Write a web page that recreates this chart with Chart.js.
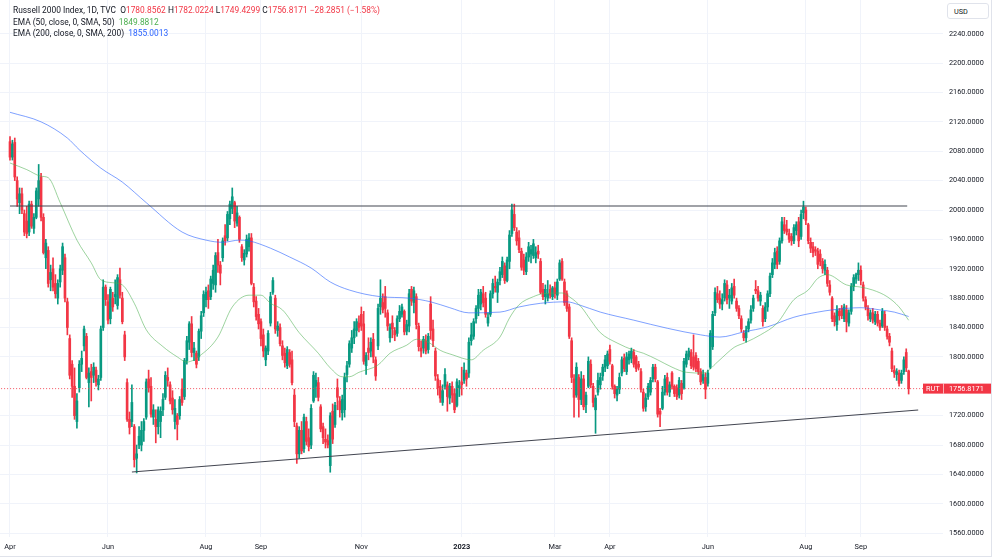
<!DOCTYPE html>
<html>
<head>
<meta charset="utf-8">
<script src="https://cdn.jsdelivr.net/npm/chart.js@4.4.0/dist/chart.umd.min.js"></script>
<style>
  body { margin: 0; background: #fff; }
  #wrap { position: relative; width: 1000px; height: 559px; overflow: hidden; font-family: Roboto, "Liberation Sans", sans-serif; }
  #frame { position: absolute; left: 0; top: 0; width: 991px; height: 556px; border-right: 1px solid #e0e3eb; border-bottom: 1px solid #e0e3eb; pointer-events: none; }
  #hdr { position: absolute; left: 13px; top: 5px; font-size: 8.4px; line-height: 11.5px; color: #131722; white-space: nowrap; }
  #hdr .red { color: #f23645; }
  #usd { position: absolute; left: 947px; top: 3px; width: 42px; height: 16px; border: 1px solid #e0e3eb; border-radius: 3px; font-size: 7.3px; line-height: 16px; color: #131722; padding-left: 6px; box-sizing: border-box; background: #fff; }
</style>
</head>
<body>
<div id="wrap">
  <canvas id="chart" width="1000" height="559"></canvas>
  <div id="frame"></div>
  <div id="hdr">
    <div><span>Russell 2000 Index, 1D, TVC</span>&nbsp; <span id="ohlc"></span></div>
    <div>EMA (50, close, 0, SMA, 50)&nbsp; <span id="v50" style="color:#4caf50"></span></div>
    <div>EMA (200, close, 0, SMA, 200)&nbsp; <span id="v200" style="color:#2962ff"></span></div>
  </div>
  <div id="usd">USD</div>
</div>
<script>
// trading-day index of each month label on the time axis
const tickIdx = [0, 41, 82, 105, 147, 189, 228, 251, 292, 333, 356];
const tickText = ['Apr', 'Jun', 'Aug', 'Sep', 'Nov', '2023', 'Mar', 'Apr', 'Jun', 'Aug', 'Sep'];
const yTicks = [1560, 1600, 1640, 1680, 1720, 1800, 1840, 1880, 1920, 1960, 2000, 2040, 2080, 2120, 2160, 2200, 2240];

// daily candles, 1 Apr 2022 .. 2 Oct 2023
const opens = [
  2093,2072,2092,2040,2010,2022,1995,1985,1970,2008,1975,1990,2015,2045,1990,1935,1945,1905,1920,1900,
  1880,1902,1918,1935,1875,1825,1790,1760,1712,1758,1790,1815,1828,1765,1780,1775,1782,1762,1772,1840,1895,
  1875,1852,1880,1882,1870,1905,1880,1830,1765,1715,1712,1705,1662,1680,1680,1700,1718,1770,1760,1718,1715,
  1705,1712,1728,1745,1772,1762,1744,1712,1720,1720,1756,1746,1795,1820,1845,1806,1805,1800,1835,1860,
  1878,1890,1882,1900,1898,1942,1925,1935,1965,1962,1988,2002,2010,1982,1990,1950,1932,1940,1950,1962,1895,1876,1858,
  1848,1830,1796,1808,1846,1888,1880,1836,1840,1815,1805,1788,1806,1796,1748,1706,1668,1700,1675,1712,1690,
  1680,1740,1760,1765,1732,1705,1688,1686,1652,1726,1708,1758,1740,1724,1728,1776,1790,1812,1826,1836,1846,
  1858,1845,1788,1812,1808,1824,1796,1815,1868,1874,1882,1860,1826,1846,1836,1832,1852,1858,1862,1835,1842,
  1892,1874,1882,1842,1812,1812,1822,1810,1872,1838,1808,1770,1760,1738,1760,1762,1744,1760,1750,1734,1758,
  1766,1768,1778,1778,1822,1828,1852,1866,1872,1886,1880,1846,1858,1886,1896,1888,1904,1912,1924,1904,
  1930,1968,1994,1970,1962,1944,1932,1916,1936,1940,1938,1935,1944,1930,1892,1882,1880,1892,1882,
  1894,1884,1906,1930,1902,1886,1868,1822,1770,1748,1772,1742,1770,1735,1760,1790,1760,1728,1752,1762,1774,1786,1788,
  1810,1788,1760,1748,1756,1778,1798,1780,1796,1798,1806,1800,1790,1780,1752,1732,1746,1752,1770,
  1786,1766,1726,1730,1752,1772,1752,1778,1760,1758,1748,1764,1758,1790,1800,1806,1800,1802,1794,1780,1768,1772,
  1764,1786,1814,1860,1886,1880,1872,1880,1898,1880,1876,1896,1876,1866,1852,1832,1826,1838,1850,1866,1892,
  1890,1876,1866,1852,1868,1886,1912,1926,1944,1930,1958,1980,1974,1968,1964,1958,1972,1984,1964,1996,
  2000,1980,1956,1950,1946,1944,1940,1930,1918,1918,1898,1880,1856,1844,1862,1866,1852,1864,1846,1862,1896,1906,1912,
  1918,1898,1878,1866,1852,1860,1848,1858,1846,1842,1858,1838,1828,1808,1782,1776,1778,1768,1780,1806,1780.8562
];
const highs = [
  2100,2095,2098,2045,2030,2030,2000,2005,2012,2012,1995,2030,2062,2050,1995,1960,1950,1925,1935,1912,
  1905,1925,1955,1940,1880,1830,1795,1785,1750,1795,1808,1842,1832,1785,1790,1792,1786,1775,1842,1905,1898,
  1885,1895,1888,1905,1912,1921,1888,1835,1770,1725,1762,1708,1680,1705,1712,1716,1770,1782,1772,1735,1728,
  1732,1732,1750,1780,1785,1766,1754,1742,1723,1746,1770,1798,1828,1848,1855,1820,1808,1838,1862,1890,
  1895,1898,1910,1925,1942,1960,1930,1962,1980,1998,2012,2030,2012,2005,1992,1953,1946,1966,1968,1968,1900,1882,1866,
  1852,1838,1815,1836,1888,1908,1884,1848,1845,1822,1812,1814,1810,1808,1756,1710,1705,1712,1722,1718,1702,
  1735,1780,1778,1772,1735,1710,1702,1694,1724,1736,1738,1770,1746,1748,1778,1794,1822,1836,1848,1852,1856,
  1868,1862,1806,1826,1826,1832,1800,1872,1905,1886,1896,1864,1845,1856,1840,1856,1870,1872,1864,1850,1892,
  1896,1895,1886,1846,1822,1828,1830,1832,1882,1850,1812,1776,1768,1762,1784,1766,1764,1766,1756,1770,1768,
  1786,1792,1782,1826,1846,1852,1870,1892,1892,1896,1888,1860,1890,1906,1910,1906,1922,1936,1928,1936,
  1972,2008,2008,1976,1972,1948,1940,1942,1956,1952,1960,1950,1952,1934,1900,1898,1904,1898,1896,
  1902,1906,1932,1934,1906,1890,1872,1826,1776,1792,1776,1780,1775,1752,1800,1796,1764,1748,1778,1778,1790,1802,1808,
  1816,1790,1762,1760,1778,1800,1804,1806,1808,1812,1810,1802,1794,1784,1756,1750,1764,1772,1790,
  1790,1768,1730,1760,1775,1778,1766,1780,1762,1762,1772,1768,1798,1808,1812,1810,1830,1806,1798,1784,1782,1778,
  1782,1836,1862,1894,1896,1890,1886,1905,1904,1892,1900,1906,1880,1870,1856,1836,1842,1852,1870,1884,1904,
  1896,1888,1870,1874,1890,1914,1934,1948,1950,1962,1990,1990,1986,1974,1968,1980,1984,1990,2000,2012,
  2004,1982,1962,1956,1950,1948,1946,1934,1932,1922,1904,1882,1860,1870,1866,1870,1872,1870,1864,1900,1912,1914,1928,
  1924,1902,1882,1870,1864,1866,1862,1862,1850,1866,1862,1842,1832,1812,1788,1784,1782,1782,1800,1811,1782.0224
];
const lows = [
  2068,2068,2040,2005,1995,1995,1965,1962,1965,1975,1968,1988,2005,1985,1940,1920,1895,1890,1890,1880,
  1872,1895,1912,1875,1830,1770,1745,1715,1703,1752,1780,1808,1770,1732,1740,1765,1760,1755,1768,1836,1870,
  1845,1845,1862,1872,1865,1880,1845,1795,1712,1695,1705,1650,1642,1675,1672,1685,1715,1752,1718,1708,1683,
  1695,1690,1720,1742,1760,1736,1722,1702,1687,1715,1734,1742,1790,1810,1800,1795,1785,1795,1825,1855,
  1868,1866,1878,1892,1888,1915,1898,1930,1952,1958,1980,1995,1976,1978,1956,1930,1925,1936,1944,1898,1868,1850,1838,
  1815,1800,1788,1803,1842,1885,1832,1828,1815,1796,1786,1784,1786,1762,1705,1655,1662,1668,1670,1680,1672,
  1675,1738,1745,1740,1698,1682,1676,1676,1643,1682,1704,1728,1718,1714,1718,1766,1786,1806,1818,1828,1834,
  1836,1790,1776,1796,1800,1792,1768,1810,1858,1860,1854,1836,1820,1826,1822,1828,1848,1854,1830,1830,1834,
  1870,1860,1838,1808,1800,1805,1804,1805,1824,1814,1768,1748,1738,1734,1756,1726,1736,1738,1724,1732,1746,
  1748,1764,1760,1772,1816,1824,1846,1856,1864,1868,1854,1842,1855,1880,1888,1874,1898,1908,1900,1902,
  1920,1964,1972,1952,1942,1918,1912,1912,1930,1928,1934,1928,1934,1886,1878,1872,1876,1880,1878,
  1880,1878,1904,1904,1870,1862,1825,1765,1718,1745,1718,1735,1728,1724,1758,1758,1732,1696,1748,1756,1768,1780,1784,
  1790,1756,1744,1740,1750,1774,1780,1776,1790,1792,1786,1780,1782,1752,1726,1726,1742,1748,1766,
  1766,1718,1705,1728,1748,1748,1746,1756,1746,1742,1744,1742,1756,1786,1796,1784,1782,1780,1776,1762,1764,1743,
  1760,1784,1810,1856,1874,1866,1864,1876,1872,1866,1872,1880,1862,1852,1834,1822,1820,1834,1846,1862,1886,
  1876,1870,1842,1848,1862,1882,1908,1920,1920,1926,1955,1968,1966,1956,1952,1954,1966,1950,1960,1988,
  1980,1954,1942,1936,1938,1920,1924,1914,1912,1896,1884,1848,1842,1836,1850,1852,1848,1834,1842,1858,1890,1900,1904,
  1898,1876,1864,1850,1848,1846,1844,1842,1836,1840,1836,1824,1815,1780,1772,1768,1760,1764,1776,1780,1749.4299
];
const closes = [
  2072,2090,2045,2015,2022,2000,1970,1968,2008,1978,1990,2026,2040,1990,1942,1955,1900,1915,1895,1886,
  1900,1920,1950,1880,1840,1775,1760,1720,1740,1790,1798,1838,1772,1778,1772,1786,1766,1770,1838,1895,1878,
  1850,1892,1868,1885,1908,1884,1848,1800,1715,1704,1738,1660,1668,1692,1700,1712,1766,1758,1722,1728,1705,
  1728,1726,1742,1775,1768,1740,1728,1730,1708,1742,1738,1795,1822,1845,1806,1812,1790,1835,1856,1885,
  1888,1878,1906,1918,1938,1925,1914,1958,1958,1994,2008,2018,1985,1996,1960,1935,1941,1960,1962,1900,1875,1855,1845,
  1825,1808,1812,1832,1882,1904,1838,1842,1818,1802,1792,1810,1790,1765,1712,1668,1700,1672,1718,1685,1678,
  1730,1775,1768,1745,1702,1690,1684,1680,1720,1688,1734,1745,1728,1742,1772,1788,1818,1826,1838,1848,1840,
  1842,1794,1802,1806,1820,1800,1774,1866,1880,1864,1866,1842,1840,1838,1830,1852,1862,1868,1834,1844,1886,
  1876,1890,1844,1814,1808,1824,1808,1828,1836,1822,1774,1758,1744,1754,1776,1746,1760,1748,1728,1766,1761,
  1762,1782,1770,1820,1830,1848,1866,1884,1888,1874,1858,1854,1886,1900,1894,1902,1916,1930,1904,1932,
  1966,2000,1976,1958,1946,1922,1918,1936,1950,1946,1954,1942,1940,1888,1882,1892,1886,1884,1894,
  1886,1902,1928,1906,1874,1866,1828,1772,1745,1786,1742,1770,1732,1748,1794,1762,1738,1744,1768,1772,1786,1796,1804,
  1794,1760,1750,1756,1772,1796,1784,1800,1804,1808,1790,1784,1786,1756,1730,1744,1760,1768,1786,
  1770,1722,1722,1752,1770,1752,1762,1760,1750,1746,1768,1750,1794,1804,1808,1788,1786,1784,1780,1766,1776,1756,
  1778,1832,1858,1888,1878,1872,1878,1900,1878,1884,1894,1884,1866,1856,1838,1826,1836,1848,1864,1880,1890,
  1880,1884,1848,1868,1886,1910,1928,1942,1926,1958,1984,1972,1970,1960,1958,1976,1980,1958,1994,2004,
  1986,1958,1948,1942,1944,1926,1930,1920,1926,1900,1888,1852,1848,1864,1856,1856,1868,1848,1860,1896,1908,1912,1918,
  1904,1880,1868,1856,1860,1850,1858,1846,1840,1862,1840,1828,1820,1784,1778,1780,1764,1778,1796,1785.1022,1756.8171
];

// moving averages at sample days
const sma50Idx = [0,7,13,16,21,28,34,38,43,47,52,57,64,70,74,80,87,93,100,105,109,114,121,129,134,139,142,146,154,159,
  166,170,175,180,185,193,198,205,209,213,219,223,231,234,239,243,247,254,261,265,271,277,283,290,296,300,303,308,314,321,
  328,334,338,342,350,356,361,367,372,376];
const sma50 = [2064,2055,2046,2044,2010,1959,1928,1905,1901,1898,1873,1837,1814,1800,1793,1803,1827,1868,1884,1884,
  1873,1864,1833,1805,1785,1773,1773,1779,1789,1805,1816,1824,1820,1809,1803,1796,1809,1827,1853,1871,
  1882,1886,1887,1882,1868,1850,1833,1819,1809,1805,1796,1786,1779,1778,1793,1805,1813,1820,1830,1846,
  1878,1891,1907,1912,1898,1895,1891,1882,1868,1849.8812];
const sma200Idx = [0,13,24,29,38,47,57,72,82,89,96,100,109,117,126,134,142,155,167,176,184,192,205,213,222,233,238,247,
  261,275,289,297,307,317,328,338,344,356,364,370,376];
const sma200 = [2133,2120,2098,2082,2057,2038,2010,1970,1959,1956,1959,1958,1948,1936,1921,1902,1891,1882,1880,1875,
  1867,1860,1861,1868,1873,1875,1871,1861,1850,1839,1830,1827,1834,1841,1854,1861,1864,1867,1864,1861,1855.0013];

// drawn trend lines (day index, price)
const resistIdx = [0, 375.4];
const resistVal = [2005.4, 2005.4];
const supportIdx = [51, 380];
const supportVal = [1643.3, 1727.7];

const UP = '#089981', DOWN = '#f23645';
const n = Math.min(opens.length, highs.length, lows.length, closes.length);
const last = n - 1;
const lastClose = closes[last];
const prevClose = closes[last - 1];

const days = [];
for (let i = 0; i < n; i++) days.push(i);
const colors = days.map(i => closes[i] >= opens[i] ? UP : DOWN);
const pts = (xs, ys) => xs.map((x, i) => ({ x: x, y: ys[i] }));

// header texts
const f4 = v => v.toFixed(4);
const chg = lastClose - prevClose;
const sign = chg < 0 ? '\u2212' : '+';
document.getElementById('ohlc').innerHTML =
  'O<span class="red">' + f4(opens[last]) + '</span> H<span class="red">' + f4(highs[last]) +
  '</span> L<span class="red">' + f4(lows[last]) + '</span> C<span class="red">' + f4(lastClose) +
  ' ' + sign + f4(Math.abs(chg)) + ' (' + sign + (Math.abs(chg) / prevClose * 100).toFixed(2) + '%)</span>';
document.getElementById('v50').textContent = f4(sma50[sma50.length - 1]);
document.getElementById('v200').textContent = f4(sma200[sma200.length - 1]);

const priceLabel = {
  id: 'priceLabel',
  afterDraw(chart) {
    const ctx = chart.ctx;
    const area = chart.chartArea;
    const y = chart.scales.y.getPixelForValue(lastClose);
    ctx.save();
    ctx.fillStyle = DOWN;
    ctx.fillRect(area.right - 20, y - 5, 68, 10);
    ctx.fillStyle = 'rgba(255,255,255,0.6)';
    ctx.fillRect(area.right, y - 5, 1, 10);
    ctx.fillStyle = '#fff';
    ctx.font = '7.3px Roboto';
    ctx.textBaseline = 'middle';
    ctx.fillText('RUT', area.right - 17, y + 0.5);
    ctx.fillText(f4(lastClose), area.right + 6, y + 0.5);
    ctx.restore();
  }
};

new Chart(document.getElementById('chart'), {
  type: 'bar',
  data: {
    datasets: [
      { type: 'line', data: [{ x: -10, y: lastClose }, { x: 400, y: lastClose }], borderColor: 'rgba(242,54,69,0.85)',
        borderWidth: 1, borderDash: [1, 2], pointRadius: 0, order: 0 },
      { type: 'line', data: pts(resistIdx, resistVal), borderColor: '#434651', borderWidth: 1.1, pointRadius: 0, order: 1 },
      { type: 'line', data: pts(supportIdx, supportVal), borderColor: '#434651', borderWidth: 1.1, pointRadius: 0, order: 1 },
      { type: 'line', data: pts(sma50Idx, sma50), borderColor: 'rgba(76,175,80,0.55)', borderWidth: 1, pointRadius: 0,
        cubicInterpolationMode: 'monotone', order: 2 },
      { type: 'line', data: pts(sma200Idx, sma200), borderColor: 'rgba(41,98,255,0.6)', borderWidth: 1, pointRadius: 0,
        cubicInterpolationMode: 'monotone', order: 2 },
      { data: days.map(i => ({ x: i, y: [opens[i], closes[i]] })), backgroundColor: colors, barThickness: 2,
        minBarLength: 1, grouped: false, order: 3 },
      { data: days.map(i => ({ x: i, y: [lows[i], highs[i]] })), backgroundColor: colors, barThickness: 1,
        grouped: false, order: 4 }
    ]
  },
  options: {
    responsive: false,
    animation: false,
    devicePixelRatio: 1,
    layout: { padding: 0 },
    plugins: { legend: { display: false }, tooltip: { enabled: false } },
    scales: {
      x: {
        type: 'linear', offset: false, min: -4.184, max: 390.38,
        grid: { color: '#f0f3fa', offset: false, drawTicks: false },
        border: { display: false },
        afterBuildTicks: s => { s.ticks = tickIdx.map(v => ({ value: v })); },
        afterFit: s => { s.height = 22; s.paddingLeft = 0; s.paddingRight = 0; },
        ticks: {
          autoSkip: false, maxRotation: 0, padding: 6, color: '#131722',
          font: c => ({ family: 'Roboto', size: 7.4, weight: tickText[c.index] === '2023' ? 'bold' : 'normal' }),
          callback: (v, i) => tickText[i]
        }
      },
      y: {
        position: 'right', min: 1554.8, max: 2285.91, beginAtZero: false,
        grid: { color: '#f0f3fa', drawTicks: false },
        border: { display: false },
        afterBuildTicks: s => { s.ticks = yTicks.map(v => ({ value: v })); },
        afterFit: s => { s.width = 57; s.paddingTop = 0; s.paddingBottom = 0; },
        ticks: { padding: 6, color: '#131722', font: { family: 'Roboto', size: 7.3 }, callback: v => v.toFixed(4) }
      }
    }
  },
  plugins: [priceLabel]
});
</script>
</body>
</html>
